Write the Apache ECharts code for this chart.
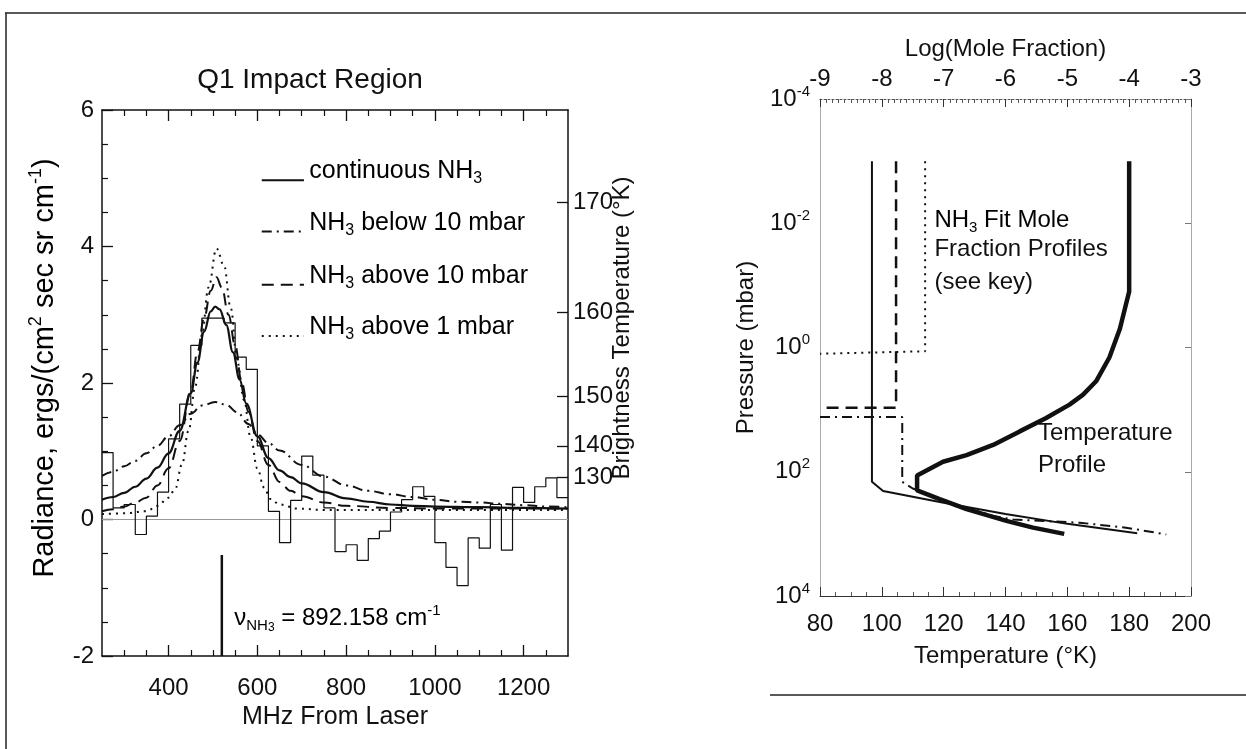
<!DOCTYPE html>
<html>
<head>
<meta charset="utf-8">
<script src="https://cdn.jsdelivr.net/npm/echarts@6/dist/echarts.min.js"></script>
<style>
html,body{margin:0;padding:0;background:#fff;}
#chart{width:1246px;height:749px;}
</style>
</head>
<body>
<div id="chart"></div>
<script>
// ---------- LEFT PANEL DATA ----------
// observed spectrum: bin edges (MHz) and bin values (radiance)
var binEdges = [250,275,300,325,350,375,400,425,450,475,500,525,550,575,600,625,650,675,700,725,750,775,800,825,850,875,900,925,950,975,1000,1025,1050,1075,1100,1125,1150,1175,1200,1225,1250,1275,1300];
var binValues = [0.98,0.17,0.22,-0.22,0.05,0.40,1.18,1.69,2.55,2.95,2.95,2.88,2.38,2.20,1.08,0.12,-0.34,0.28,0.93,0.65,0.17,-0.47,-0.37,-0.60,-0.28,-0.17,0.11,0.29,0.48,0.34,-0.34,-0.70,-0.97,-0.27,-0.42,0.22,-0.45,0.47,0.25,0.48,0.61,0.32];

var contX = [250,275,300,325,350,375,400,425,450,465,480,495,505,515,530,545,560,575,600,625,650,675,700,750,800,850,900,950,1000,1100,1200,1300];
var contY = [0.29,0.33,0.39,0.48,0.60,0.76,0.97,1.30,1.85,2.30,2.75,3.05,3.12,3.08,2.85,2.45,2.05,1.70,1.22,0.90,0.72,0.62,0.53,0.40,0.31,0.26,0.22,0.20,0.19,0.18,0.17,0.16];

var below10X = [250,275,300,325,350,375,400,425,450,475,505,530,555,580,600,625,650,700,750,800,850,900,950,1000,1050,1100,1150,1200,1250,1300];
var below10Y = [0.64,0.70,0.78,0.86,0.97,1.08,1.22,1.38,1.55,1.67,1.72,1.68,1.57,1.40,1.25,1.12,1.01,0.80,0.63,0.50,0.42,0.37,0.33,0.29,0.26,0.25,0.23,0.21,0.19,0.18];

var above10X = [250,275,300,325,350,375,400,425,450,465,480,495,508,520,535,550,565,580,600,625,650,675,700,750,800,900,1000,1300];
var above10Y = [0.12,0.15,0.19,0.25,0.32,0.50,0.75,1.15,1.88,2.45,2.95,3.35,3.55,3.40,3.00,2.55,2.00,1.58,1.15,0.80,0.55,0.42,0.34,0.25,0.20,0.17,0.16,0.16];

var above1X = [250,300,350,375,400,415,430,445,460,475,490,508,525,540,555,570,585,600,615,630,650,690,750,1300];
var above1Y = [0.08,0.09,0.12,0.20,0.32,0.45,0.80,1.30,1.95,2.70,3.40,3.97,3.72,3.10,2.30,1.75,1.20,0.75,0.47,0.30,0.22,0.16,0.14,0.14];

var lineCenterMHz = 520;
var lineMarkY = [-0.52, -2];

var mhzLabels = [400,600,800,1000,1200];
var mhzMinor = [300,350,450,500,550,650,700,750,850,900,950,1050,1100,1150,1250];
var btLabels = [130,140,150,160,170];
var btRadiance = [0.62,1.08,1.81,3.03,4.65];

// ---------- RIGHT PANEL DATA ----------
var tempProfileT = [180,180,179.5,177,173.6,169.3,165,160.7,153,144.6,136,127.4,119.8,111.4,111.4,118.7,127.4,140.3,148.9,159];
var tempProfileP = [0.001,0.126,0.158,0.5,1.45,3.5,5.8,8.3,13.8,22.4,37,54,69,115,200,275,400,617,794,1000];

var contLogX = [-8.16,-8.16,-7.98,-7.0,-6.0,-5.0,-3.87];
var contP = [0.001,145,204,316,480,690,980];

var below10LogX = [-9,-7.67,-7.67,-7.5,-7.06,-6.63,-6.2,-5.88,-4.8,-4.05,-3.40];
var below10P = [13.2,13.2,145,186,275,380,513,589,661,794,1023];

var above10LogX = [-7.77,-7.77,-7.77,-9];
var above10P = [0.001,6.6,9.3,9.3];

var above1LogX = [-7.30,-7.30,-9];
var above1P = [0.001,1.15,1.26];

function zip(a,b){var r=[];for(var i=0;i<a.length;i++)r.push([a[i],b[i]]);return r;}
var histData = [];
for (var i=0;i<binValues.length;i++) histData.push([binEdges[i], binValues[i]]);
histData.push([binEdges[binEdges.length-1], binValues[binValues.length-1]]);

var FONT = 'Liberation Sans, Arial, Helvetica, sans-serif';
var FS = 24;
var BLACK = '#111';
function richSet(fs){
  return {
    b:{fontSize:fs,fontFamily:FONT,color:BLACK,lineHeight:Math.round(fs*1.25)},
    sup:{fontSize:Math.round(fs*0.62),fontFamily:FONT,color:BLACK,verticalAlign:'top',lineHeight:Math.round(fs*0.66)},
    sub:{fontSize:Math.round(fs*0.62),fontFamily:FONT,color:BLACK,verticalAlign:'bottom',lineHeight:Math.round(fs*0.58)},
    subsub:{fontSize:Math.round(fs*0.5),fontFamily:FONT,color:BLACK,verticalAlign:'bottom',lineHeight:Math.round(fs*0.2)}
  };
}
var supRich = richSet(FS);

var chart = echarts.init(document.getElementById('chart'), null, {renderer:'canvas'});

var G0 = {left:102, right:1246-568, top:110, bottom:749-656};
var G1 = {left:820, right:1246-1191, top:99, bottom:749-596};

var option = {
  backgroundColor:'#fff',
  animation:false,
  textStyle:{fontFamily:FONT},
  grid:[
    {left:G0.left,right:G0.right,top:G0.top,bottom:G0.bottom,containLabel:false},
    {left:G1.left,right:G1.right,top:G1.top,bottom:G1.bottom,containLabel:false}
  ],
  xAxis:[
    {gridIndex:0,type:'value',position:'bottom',min:250,max:1300,
     axisLine:{show:true,onZero:false,lineStyle:{color:BLACK,width:1.5}},
     axisTick:{show:true,inside:true,length:11,customValues:mhzLabels,lineStyle:{color:BLACK,width:1.3}},
     axisLabel:{show:true,customValues:mhzLabels,color:BLACK,fontSize:FS,fontFamily:FONT,margin:20,
       formatter:function(v){return String(v);}},
     splitLine:{show:false},
     name:'MHz From Laser',nameLocation:'middle',nameGap:48,
     nameTextStyle:{color:BLACK,fontSize:25,fontFamily:FONT}},
    {gridIndex:0,type:'value',position:'bottom',min:250,max:1300,
     axisLine:{show:false,onZero:false},
     axisTick:{show:true,inside:true,length:6,customValues:mhzMinor,lineStyle:{color:BLACK,width:1.2}},
     axisLabel:{show:false},splitLine:{show:false}},
    {gridIndex:0,type:'value',position:'top',min:250,max:1300,
     axisLine:{show:true,onZero:false,lineStyle:{color:BLACK,width:1.5}},
     axisTick:{show:true,inside:true,length:11,customValues:mhzLabels,lineStyle:{color:BLACK,width:1.3}},
     axisLabel:{show:false},splitLine:{show:false}},
    {gridIndex:0,type:'value',position:'top',min:250,max:1300,
     axisLine:{show:false,onZero:false},
     axisTick:{show:true,inside:true,length:6,customValues:mhzMinor,lineStyle:{color:BLACK,width:1.2}},
     axisLabel:{show:false},splitLine:{show:false}},
    {gridIndex:1,type:'value',position:'bottom',min:80,max:200,interval:20,
     axisLine:{show:true,onZero:false,lineStyle:{color:'#333',width:1}},
     axisTick:{show:true,inside:true,length:9,lineStyle:{color:'#333',width:1}},
     minorTick:{show:true,splitNumber:4,length:4,lineStyle:{color:'#555',width:1}},
     axisLabel:{show:true,color:BLACK,fontSize:FS,fontFamily:FONT,margin:16},
     splitLine:{show:false},
     name:'Temperature (°K)',nameLocation:'middle',nameGap:48,
     nameTextStyle:{color:BLACK,fontSize:FS,fontFamily:FONT}},
    {gridIndex:1,type:'value',position:'top',min:-9,max:-3,interval:1,
     axisLine:{show:true,onZero:false,lineStyle:{color:'#555',width:1,type:[2,2]}},
     axisTick:{show:true,inside:true,length:8,lineStyle:{color:'#333',width:1}},
     minorTick:{show:true,splitNumber:10,length:4,lineStyle:{color:'#555',width:1}},
     axisLabel:{show:true,color:BLACK,fontSize:FS,fontFamily:FONT,margin:8},
     splitLine:{show:false},
     name:'Log(Mole Fraction)',nameLocation:'middle',nameGap:38,
     nameTextStyle:{color:BLACK,fontSize:FS,fontFamily:FONT}}
  ],
  yAxis:[
    {gridIndex:0,type:'value',position:'left',min:-2,max:6,interval:2,
     axisLine:{show:true,onZero:false,lineStyle:{color:BLACK,width:1.5}},
     axisTick:{show:true,inside:true,length:11,lineStyle:{color:BLACK,width:1.3}},
     minorTick:{show:true,splitNumber:4,length:6,lineStyle:{color:BLACK,width:1.2}},
     axisLabel:{show:true,color:BLACK,fontSize:FS,fontFamily:FONT,margin:8},
     splitLine:{show:false}},
    {gridIndex:0,type:'value',position:'right',min:-2,max:6,
     axisLine:{show:true,onZero:false,lineStyle:{color:BLACK,width:1.5}},
     axisTick:{show:true,inside:true,length:11,customValues:btRadiance,lineStyle:{color:BLACK,width:1.3}},
     axisLabel:{show:true,customValues:btRadiance,color:BLACK,fontSize:FS,fontFamily:FONT,margin:5,
       formatter:function(v){
         for (var i=0;i<btRadiance.length;i++){ if (Math.abs(btRadiance[i]-v)<1e-6) return String(btLabels[i]); }
         return '';
       }},
     splitLine:{show:false}},
    {gridIndex:1,type:'log',logBase:10,position:'left',min:1e-4,max:1e4,interval:2,inverse:true,
     axisLine:{show:true,onZero:false,lineStyle:{color:'#aaa',width:1}},
     axisTick:{show:false},
     axisLabel:{show:true,color:BLACK,margin:10,
       formatter:function(v){ var e=Math.round(Math.log(v)/Math.LN10); return '{b|10}{sup|'+e+'}'; },
       rich:supRich},
     splitLine:{show:false},
     name:'Pressure (mbar)',nameLocation:'middle',nameGap:62,
     nameTextStyle:{color:BLACK,fontSize:FS,fontFamily:FONT}},
    {gridIndex:1,type:'log',logBase:10,position:'right',min:1e-4,max:1e4,interval:2,inverse:true,
     axisLine:{show:true,onZero:false,lineStyle:{color:'#aaa',width:1}},
     axisTick:{show:true,inside:true,length:6,lineStyle:{color:'#777',width:1}},
     axisLabel:{show:false},splitLine:{show:false}}
  ],
  series:[
    {name:'zero',type:'line',xAxisIndex:0,yAxisIndex:0,data:[[250,0],[1300,0]],
     symbol:'none',lineStyle:{color:'#999',width:1},silent:true,z:1},
    {name:'observed',type:'line',xAxisIndex:0,yAxisIndex:0,data:histData,step:'end',
     symbol:'none',lineStyle:{color:BLACK,width:1.2},z:2},
    {name:'continuous',type:'line',xAxisIndex:0,yAxisIndex:0,data:zip(contX,contY),smooth:0.4,smoothMonotone:'x',
     symbol:'none',lineStyle:{color:BLACK,width:2.2},z:3},
    {name:'below10',type:'line',xAxisIndex:0,yAxisIndex:0,data:zip(below10X,below10Y),smooth:0.4,smoothMonotone:'x',
     symbol:'none',lineStyle:{color:BLACK,width:2,type:[10,5,2,5]},z:3},
    {name:'above10',type:'line',xAxisIndex:0,yAxisIndex:0,data:zip(above10X,above10Y),smooth:0.4,smoothMonotone:'x',
     symbol:'none',lineStyle:{color:BLACK,width:2,type:[12,7]},z:3},
    {name:'above1',type:'line',xAxisIndex:0,yAxisIndex:0,data:zip(above1X,above1Y),smooth:0.4,smoothMonotone:'x',
     symbol:'none',lineStyle:{color:BLACK,width:2,type:[2,5]},z:3},
    {name:'lineCenter',type:'line',xAxisIndex:0,yAxisIndex:0,data:[[lineCenterMHz,lineMarkY[0]],[lineCenterMHz,lineMarkY[1]]],
     symbol:'none',lineStyle:{color:BLACK,width:2.5},z:3},
    {name:'tempProfile',type:'line',xAxisIndex:4,yAxisIndex:2,data:zip(tempProfileT,tempProfileP),
     symbol:'none',lineStyle:{color:BLACK,width:4.5},z:3},
    {name:'contProfile',type:'line',xAxisIndex:5,yAxisIndex:2,data:zip(contLogX,contP),
     symbol:'none',lineStyle:{color:BLACK,width:2},z:3},
    {name:'below10Profile',type:'line',xAxisIndex:5,yAxisIndex:2,data:zip(below10LogX,below10P),
     symbol:'none',lineStyle:{color:BLACK,width:2,type:[10,5,2,5]},z:3},
    {name:'above10Profile',type:'line',xAxisIndex:5,yAxisIndex:2,data:zip(above10LogX,above10P),
     symbol:'none',lineStyle:{color:BLACK,width:2.5,type:[12,7]},z:3},
    {name:'above1Profile',type:'line',xAxisIndex:5,yAxisIndex:2,data:zip(above1LogX,above1P),
     symbol:'none',lineStyle:{color:BLACK,width:2,type:[2,5]},z:3}
  ]
};
chart.setOption(option);

function px(gridX, gridY, pt){ return chart.convertToPixel({xAxisIndex:gridX, yAxisIndex:gridY}, pt); }
var legRich = richSet(25);
var legendRows = [
  {y:5.10, dash:null, text:'{b|continuous NH}{sub|3}'},
  {y:4.35, dash:[10,5,2,5], text:'{b|NH}{sub|3}{b| below 10 mbar}'},
  {y:3.57, dash:[12,7], text:'{b|NH}{sub|3}{b| above 10 mbar}'},
  {y:2.82, dash:[2,5], text:'{b|NH}{sub|3}{b| above 1 mbar}'}
];
var graphics = [];
legendRows.forEach(function(r){
  var a = px(0,0,[610,r.y-0.13]), b = px(0,0,[705,r.y-0.13]), t = px(0,0,[717,r.y]);
  graphics.push({type:'line',shape:{x1:a[0],y1:a[1],x2:b[0],y2:b[1]},style:{stroke:BLACK,lineWidth:2,lineDash:r.dash}});
  graphics.push({type:'text',x:t[0],y:t[1],style:{text:r.text,rich:legRich,verticalAlign:'middle',align:'left'}});
});
var nuPos = px(0,0,[548,-1.45]);
graphics.push({type:'text',x:nuPos[0],y:nuPos[1],style:{
  text:'{b|ν}{sub|NH}{subsub|3}{b| = 892.158 cm}{sup|-1}',verticalAlign:'middle',align:'left',rich:supRich}});
graphics.push({type:'text',x:310,y:80,style:{text:'Q1 Impact Region',fontSize:28,fontFamily:FONT,fill:BLACK,align:'center',verticalAlign:'middle'}});
graphics.push({type:'text',x:45,y:368,rotation:Math.PI/2,style:{
  text:'{b|Radiance, ergs/(cm}{sup|2}{b| sec sr cm}{sup|-1}{b|)}',rich:richSet(29),align:'center',verticalAlign:'middle'}});
graphics.push({type:'text',x:622,y:328,rotation:Math.PI/2,style:{text:'Brightness Temperature (°K)',fontSize:FS,fontFamily:FONT,fill:BLACK,align:'center',verticalAlign:'middle'}});
var t1 = px(4,2,[117,0.009]), t2 = px(4,2,[117,0.026]), t3 = px(4,2,[117,0.088]);
graphics.push({type:'text',x:t1[0],y:t1[1],style:{text:'{b|NH}{sub|3}{b| Fit Mole}',rich:supRich,verticalAlign:'middle',align:'left'}});
graphics.push({type:'text',x:t2[0],y:t2[1],style:{text:'Fraction Profiles',fontSize:FS,fontFamily:FONT,fill:BLACK,verticalAlign:'middle',align:'left'}});
graphics.push({type:'text',x:t3[0],y:t3[1],style:{text:'(see key)',fontSize:FS,fontFamily:FONT,fill:BLACK,verticalAlign:'middle',align:'left'}});
var t4 = px(4,2,[150.5,24]), t5 = px(4,2,[150.5,80]);
graphics.push({type:'text',x:t4[0],y:t4[1],style:{text:'Temperature',fontSize:FS,fontFamily:FONT,fill:BLACK,verticalAlign:'middle',align:'left'}});
graphics.push({type:'text',x:t5[0],y:t5[1],style:{text:'Profile',fontSize:FS,fontFamily:FONT,fill:BLACK,verticalAlign:'middle',align:'left'}});
graphics.push({type:'line',shape:{x1:5,y1:13,x2:1246,y2:13},style:{stroke:'#222',lineWidth:1.5}});
graphics.push({type:'line',shape:{x1:6,y1:13,x2:6,y2:749},style:{stroke:'#222',lineWidth:1.5}});
graphics.push({type:'line',shape:{x1:770,y1:695,x2:1246,y2:695},style:{stroke:'#222',lineWidth:1.5}});
chart.setOption({graphic:graphics});
</script>
</body>
</html>
